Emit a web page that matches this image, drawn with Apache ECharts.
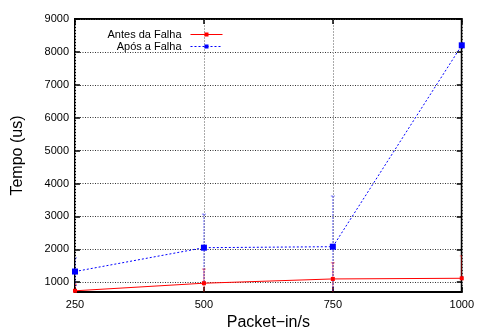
<!DOCTYPE html>
<html>
<head>
<meta charset="utf-8">
<script src="https://cdn.jsdelivr.net/npm/echarts@6/dist/echarts.min.js"></script>
<style>
  html, body { margin: 0; padding: 0; background: #fff; }
  #chart { width: 477px; height: 336px; }
</style>
</head>
<body>
<div id="chart"></div>
<script>
const packetRates = [250, 500, 750, 1000];
const antesFalha = [740, 970, 1100, 1120];
const aposFalha = [1325, 2050, 2080, 8200];
const antesLow = [600, 500, 600, 1120];
const antesHigh = [940, 1400, 1590, 1800];
const aposLow = [900, 1000, 600, 8200];
const aposHigh = [1740, 3070, 3620, 8200];
const yTicks = [1000, 2000, 3000, 4000, 5000, 6000, 7000, 8000, 9000];

const font = '"Liberation Sans", Arial, sans-serif';

function errorBars(lows, highs, color, dash) {
    return {
        type: 'custom',
        silent: true,
        clip: true,
        z: 1,
        data: packetRates.map((x, i) => [x, lows[i], highs[i]]),
        renderItem: function (params, api) {
            const top = api.coord([api.value(0), api.value(2)]);
            const bottom = api.coord([api.value(0), api.value(1)]);
            const style = { stroke: color, lineWidth: 1, lineDash: dash, opacity: 0.55 };
            return {
                type: 'group',
                children: [
                    { type: 'line', shape: { x1: top[0], y1: top[1], x2: bottom[0], y2: bottom[1] }, style: style },
                    { type: 'line', shape: { x1: top[0] - 2, y1: top[1], x2: top[0] + 2, y2: top[1] }, style: style },
                    { type: 'line', shape: { x1: bottom[0] - 2, y1: bottom[1], x2: bottom[0] + 2, y2: bottom[1] }, style: style }
                ]
            };
        }
    };
}

const legendBase = {
    right: 249,
    align: 'right',
    itemWidth: 32,
    itemHeight: 5,
    textStyle: { fontSize: 11, color: '#000', fontFamily: font, padding: [0, 4, 0, 0] }
};

const myChart = echarts.init(document.getElementById('chart'), null, { renderer: 'canvas' });
myChart.setOption({
    animation: false,
    textStyle: { fontFamily: font },
    grid: {
        left: 75,
        right: 13,
        top: 19,
        bottom: 36,
        show: true,
        borderColor: '#000',
        borderWidth: 2
    },
    legend: [
        Object.assign({ data: ['Antes da Falha'], top: 24, lineStyle: { width: 1 } }, legendBase),
        Object.assign({ data: ['Após a Falha'], top: 36, lineStyle: { width: 1 } }, legendBase)
    ],
    xAxis: [
        {
            type: 'value',
            min: 250,
            max: 1000,
            interval: 250,
            name: 'Packet\u2212in/s',
            nameLocation: 'middle',
            nameGap: 20,
            nameTextStyle: { fontSize: 16, color: '#000', fontFamily: font },
            axisLine: { show: false },
            axisTick: { inside: true, length: 5, lineStyle: { color: '#000', width: 1.5 } },
            axisLabel: { fontSize: 11, color: '#000', margin: 7, fontFamily: font, formatter: v => String(v) },
            splitLine: { show: true, lineStyle: { color: '#aaa', type: [2, 1] } }
        },
        {
            type: 'value',
            position: 'top',
            min: 250,
            max: 1000,
            interval: 250,
            axisLine: { show: false },
            axisTick: { inside: true, length: 5, lineStyle: { color: '#000', width: 1.5 } },
            axisLabel: { show: false },
            splitLine: { show: false }
        }
    ],
    yAxis: [
        {
            type: 'value',
            min: 700,
            max: 9000,
            name: 'Tempo (us)',
            nameLocation: 'middle',
            nameGap: 49,
            nameTextStyle: { fontSize: 16, color: '#000', fontFamily: font },
            axisLine: { show: false },
            axisTick: { inside: true, length: 5, customValues: yTicks, lineStyle: { color: '#000', width: 1.5 } },
            axisLabel: { fontSize: 11, color: '#000', margin: 6, customValues: yTicks, fontFamily: font, formatter: v => String(v) },
            splitLine: { show: true, customValues: yTicks, lineStyle: { color: '#333', type: [1, 1.5] } }
        },
        {
            type: 'value',
            position: 'right',
            min: 700,
            max: 9000,
            axisLine: { show: false },
            axisTick: { inside: true, length: 5, customValues: yTicks, lineStyle: { color: '#000', width: 1.5 } },
            axisLabel: { show: false, customValues: yTicks },
            splitLine: { show: false }
        }
    ],
    series: [
        errorBars(antesLow, antesHigh, '#ff0000', null),
        errorBars(aposLow, aposHigh, '#0000ff', [2, 1]),
        {
            name: 'Antes da Falha',
            type: 'line',
            z: 3,
            data: packetRates.map((x, i) => [x, antesFalha[i]]),
            symbol: 'rect',
            symbolSize: 4,
            itemStyle: { color: '#ff0000' },
            lineStyle: { color: '#ff0000', width: 1 }
        },
        {
            name: 'Após a Falha',
            type: 'line',
            z: 3,
            data: packetRates.map((x, i) => [x, aposFalha[i]]),
            symbol: 'rect',
            symbolSize: 6,
            itemStyle: { color: '#0000ff' },
            lineStyle: { color: '#0000ff', width: 1, type: [2, 2] }
        }
    ]
});
</script>
</body>
</html>
